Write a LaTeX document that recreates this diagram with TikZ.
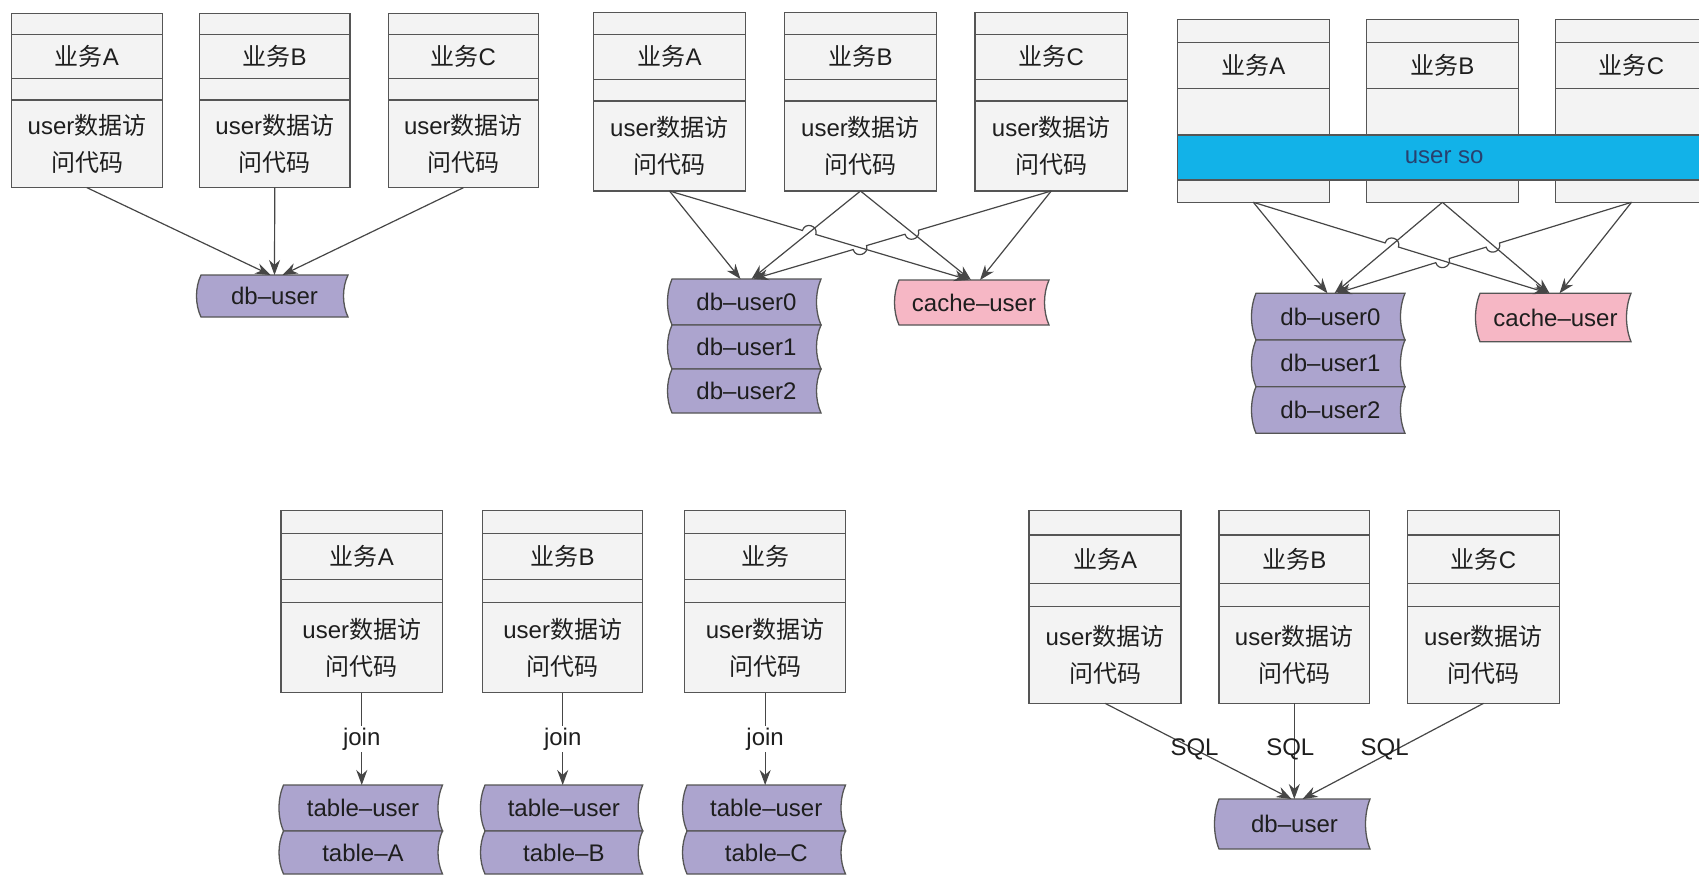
\documentclass[tikz,border=0pt]{standalone}
\usepackage{fontspec}
\setmainfont{Liberation Sans}
\newfontfamily\cjk{Noto Sans CJK SC}
\usetikzlibrary{calc,arrows.meta,intersections}

\definecolor{boxfill}{RGB}{243,243,243}
\definecolor{boxline}{RGB}{85,85,85}
\definecolor{conncol}{RGB}{70,70,70}
\definecolor{dbfill}{RGB}{172,164,206}
\definecolor{cachefill}{RGB}{246,183,197}
\definecolor{sofill}{RGB}{18,178,232}
\definecolor{sotext}{RGB}{40,64,110}
\definecolor{txt}{RGB}{30,30,30}

\tikzset{
  svc/.style={draw=boxline, fill=boxfill, line width=1.3pt, rectangle, inner sep=0pt, outer sep=0pt},
  rowline/.style={draw=boxline, line width=1.3pt},
  lbl/.style={text=txt, font=\fontsize{24}{37}\selectfont, inner sep=0pt, outer sep=0pt, align=center},
  cellshape/.style={draw=boxline, line width=1.3pt},
  conn/.style={draw=conncol, line width=1.2pt, -{Stealth[length=15pt,width=11pt]}},
  joinlbl/.style={lbl, fill=white, inner sep=2pt},
  sqllbl/.style={lbl},
  band/.style={draw=boxline, fill=sofill, line width=1.3pt, rectangle, inner sep=0pt, text=sotext, font=\fontsize{24}{30}\selectfont}
}

% service box: name, x1, x2, ytop, line1, line2, line3, ybottom, title
\newcommand\svcbox[9]{%
  \node[svc, minimum width={#3-#2}, minimum height={#8-#4}] (#1) at ({(#2+#3)/2},{(#4+#8)/2}) {};
  \draw[rowline] (#2,#5) -- (#3,#5) (#2,#6) -- (#3,#6) (#2,#7) -- (#3,#7);
  \node[lbl] (#1-t) at ({(#2+#3)/2},{(#5+#6)/2}) {#9};
  \node[lbl] (#1-b) at ({(#2+#3)/2},{(#7+#8)/2}) {user{\cjk 数据访}\\{\cjk 问代码}};
}
% service box of the "user so" panel: name, x1, x2, title
\newcommand\sobox[4]{%
  \node[svc, minimum width={#3-#2}, minimum height=183] (#1) at ({(#2+#3)/2},110.8) {};
  \draw[rowline] (#2,42.3) -- (#3,42.3) (#2,88.3) -- (#3,88.3);
  \node[lbl] (#1-t) at ({(#2+#3)/2},65.3) {#4};
}
% stored-data cell: name, x1, y1, x2, y2, fill, text
\newcommand\dbcell[7]{%
  \path[cellshape, fill=#6] (#2,#3) -- (#4,#3)
    .. controls ($(#4,#3)!0.3!(#4,#5)+(-6,0)$) and ($(#4,#3)!0.7!(#4,#5)+(-6,0)$) .. (#4,#5)
    -- (#2,#5)
    .. controls ($(#2,#3)!0.7!(#2,#5)+(-6,0)$) and ($(#2,#3)!0.3!(#2,#5)+(-6,0)$) .. cycle;
  \node[lbl, minimum width={#4-#2}, minimum height={#5-#3}] (#1) at ({(#2+#4)/2},{(#3+#5)/2}) {#7};
}

\begin{document}
\begin{tikzpicture}[x=1pt,y=-1pt]
\useasboundingbox (0,0) rectangle (1699,876);
\clip (0,0) rectangle (1699,876);
\fill[white] (0,0) rectangle (1699,876);

% ---------------- Panel 1 ----------------
\svcbox{p1A}{11.5}{162.5}{13.3}{34.3}{78.3}{100}{187.7}{{\cjk 业务}A}
\svcbox{p1B}{199.5}{350}{13.3}{34.3}{78.3}{100}{187.7}{{\cjk 业务}B}
\svcbox{p1C}{388.2}{538.5}{13.3}{34.3}{78.3}{100}{187.7}{{\cjk 业务}C}
\dbcell{p1db}{201}{275}{348}{317}{dbfill}{db–user}
\draw[conn] (p1A.south) -- ([xshift=-4pt]p1db.north);
\draw[conn] (p1B.south) -- (p1db.north);
\draw[conn] (p1C.south) -- ([xshift=8pt]p1db.north);

% ---------------- Panel 2 ----------------
\svcbox{p2A}{593.5}{745.5}{12.7}{34.3}{79.3}{101}{191}{{\cjk 业务}A}
\svcbox{p2B}{784.4}{936.6}{12.7}{34.3}{79.3}{101}{191}{{\cjk 业务}B}
\svcbox{p2C}{975}{1127.5}{12.7}{34.3}{79.3}{101}{191}{{\cjk 业务}C}
\dbcell{p2d0}{672}{279}{821}{325}{dbfill}{db–user0}
\dbcell{p2d1}{672}{325}{821}{369}{dbfill}{db–user1}
\dbcell{p2d2}{672}{369}{821}{413}{dbfill}{db–user2}
\dbcell{p2c}{899}{280}{1049}{325}{cachefill}{cache–user}

\coordinate (t2Adb) at ([xshift=-6pt]p2d0.north);
\coordinate (t2Bdb) at ([xshift=5pt]p2d0.north);
\coordinate (t2Cdb) at ([xshift=7pt]p2d0.north);
\coordinate (t2Ac) at ([xshift=-5pt]p2c.north);
\coordinate (t2Bc) at ([xshift=-3pt]p2c.north);
\coordinate (t2Cc) at ([xshift=6pt]p2c.north);
\path[name path=p2Ac] (p2A.south) -- (t2Ac);
\path[name path=p2Bd] (p2B.south) -- (t2Bdb);
\path[name path=p2Cd] (p2C.south) -- (t2Cdb);
\path[name path=p2Bc] (p2B.south) -- (t2Bc);
\path[name intersections={of=p2Ac and p2Bd, by=q2a}];
\path[name intersections={of=p2Cd and p2Bc, by=q2b}];
\path[name intersections={of=p2Cd and p2Ac, by=q2c}];
\coordinate (q2a1) at ($(q2a)!7pt!(p2A.south)$);
\coordinate (q2a2) at ($(q2a)!7pt!(t2Ac)$);
\coordinate (q2b1) at ($(q2b)!7pt!(p2C.south)$);
\coordinate (q2b2) at ($(q2b)!7pt!(t2Cdb)$);
\coordinate (q2c1) at ($(q2c)!7pt!(p2C.south)$);
\coordinate (q2c2) at ($(q2c)!7pt!(t2Cdb)$);
\draw[conn] (p2A.south) -- (t2Adb);
\draw[conn] (p2A.south) -- (q2a1) .. controls ($(q2a1)!0.667!90:(q2a2)$) and ($(q2a2)!0.667!-90:(q2a1)$) .. (q2a2) -- (t2Ac);
\draw[conn] (p2B.south) -- (t2Bdb);
\draw[conn] (p2B.south) -- (t2Bc);
\draw[conn] (p2C.south) -- (q2b1) .. controls ($(q2b1)!0.667!90:(q2b2)$) and ($(q2b2)!0.667!-90:(q2b1)$) .. (q2b2)
  -- (q2c1) .. controls ($(q2c1)!0.667!90:(q2c2)$) and ($(q2c2)!0.667!-90:(q2c1)$) .. (q2c2) -- (t2Cdb);
\draw[conn] (p2C.south) -- (t2Cc);

% ---------------- Panel 3 ----------------
\sobox{p3A}{1177.2}{1329.5}{{\cjk 业务}A}
\sobox{p3B}{1366.3}{1518.5}{{\cjk 业务}B}
\sobox{p3C}{1555.3}{1707.6}{{\cjk 业务}C}
\node[band, minimum width=534, minimum height=45] (so) at (1444.2,157.5) {user so};
\dbcell{p3d0}{1256}{293.3}{1405}{340}{dbfill}{db–user0}
\dbcell{p3d1}{1256}{340}{1405}{386.7}{dbfill}{db–user1}
\dbcell{p3d2}{1256}{386.7}{1405}{433.3}{dbfill}{db–user2}
\dbcell{p3c}{1480}{293.3}{1631}{341.7}{cachefill}{cache–user}

\coordinate (t3Adb) at ([xshift=-3pt]p3d0.north);
\coordinate (t3Bdb) at ([xshift=4pt]p3d0.north);
\coordinate (t3Cdb) at ([xshift=6pt]p3d0.north);
\coordinate (t3Ac) at ([xshift=-7pt]p3c.north);
\coordinate (t3Bc) at ([xshift=-6pt]p3c.north);
\coordinate (t3Cc) at ([xshift=4pt]p3c.north);
\path[name path=p3Ac] (p3A.south) -- (t3Ac);
\path[name path=p3Bd] (p3B.south) -- (t3Bdb);
\path[name path=p3Cd] (p3C.south) -- (t3Cdb);
\path[name path=p3Bc] (p3B.south) -- (t3Bc);
\path[name intersections={of=p3Ac and p3Bd, by=q3a}];
\path[name intersections={of=p3Cd and p3Bc, by=q3b}];
\path[name intersections={of=p3Cd and p3Ac, by=q3c}];
\coordinate (q3a1) at ($(q3a)!7pt!(p3A.south)$);
\coordinate (q3a2) at ($(q3a)!7pt!(t3Ac)$);
\coordinate (q3b1) at ($(q3b)!7pt!(p3C.south)$);
\coordinate (q3b2) at ($(q3b)!7pt!(t3Cdb)$);
\coordinate (q3c1) at ($(q3c)!7pt!(p3C.south)$);
\coordinate (q3c2) at ($(q3c)!7pt!(t3Cdb)$);
\draw[conn] (p3A.south) -- (t3Adb);
\draw[conn] (p3A.south) -- (q3a1) .. controls ($(q3a1)!0.667!90:(q3a2)$) and ($(q3a2)!0.667!-90:(q3a1)$) .. (q3a2) -- (t3Ac);
\draw[conn] (p3B.south) -- (t3Bdb);
\draw[conn] (p3B.south) -- (t3Bc);
\draw[conn] (p3C.south) -- (q3b1) .. controls ($(q3b1)!0.667!90:(q3b2)$) and ($(q3b2)!0.667!-90:(q3b1)$) .. (q3b2)
  -- (q3c1) .. controls ($(q3c1)!0.667!90:(q3c2)$) and ($(q3c2)!0.667!-90:(q3c1)$) .. (q3c2) -- (t3Cdb);
\draw[conn] (p3C.south) -- (t3Cc);

% ---------------- Panel 4 ----------------
\svcbox{p4A}{281}{442.5}{510.7}{533.3}{579.3}{602.7}{692.7}{{\cjk 业务}A}
\svcbox{p4B}{482.7}{642.7}{510.7}{533.3}{579.3}{602.7}{692.7}{{\cjk 业务}B}
\svcbox{p4C}{684.8}{845.5}{510.7}{533.3}{579.3}{602.7}{692.7}{{\cjk 业务}}
\dbcell{p4Au}{283.5}{785}{442.5}{831}{dbfill}{table–user}
\dbcell{p4Ax}{283.5}{831}{442.5}{874}{dbfill}{table–A}
\dbcell{p4Bu}{485}{785}{642.7}{831}{dbfill}{table–user}
\dbcell{p4Bx}{485}{831}{642.7}{874}{dbfill}{table–B}
\dbcell{p4Cu}{687}{785}{845.5}{831}{dbfill}{table–user}
\dbcell{p4Cx}{687}{831}{845.5}{874}{dbfill}{table–C}
\draw[conn] (p4A.south) -- node[joinlbl] {join} (p4A.south |- p4Au.north);
\draw[conn] (p4B.south) -- node[joinlbl] {join} (p4B.south |- p4Bu.north);
\draw[conn] (p4C.south) -- node[joinlbl] {join} (p4C.south |- p4Cu.north);

% ---------------- Panel 5 ----------------
\svcbox{p5A}{1029}{1181}{510.7}{535}{583.3}{606.7}{703.3}{{\cjk 业务}A}
\svcbox{p5B}{1219}{1369.6}{510.7}{535}{583.3}{606.7}{703.3}{{\cjk 业务}B}
\svcbox{p5C}{1407.7}{1559.4}{510.7}{535}{583.3}{606.7}{703.3}{{\cjk 业务}C}
\dbcell{p5db}{1219}{799}{1370}{849}{dbfill}{db–user}
\draw[conn] (p5A.south) -- node[sqllbl, pos=0.48] {SQL} ([xshift=-3pt]p5db.north);
\draw[conn] (p5B.south) -- node[sqllbl, pos=0.48, xshift=-4pt] {SQL} (p5B.south |- p5db.north);
\draw[conn] (p5C.south) -- node[sqllbl, pos=0.48, xshift=-12pt] {SQL} ([xshift=8pt]p5db.north);
\end{tikzpicture}
\end{document}
